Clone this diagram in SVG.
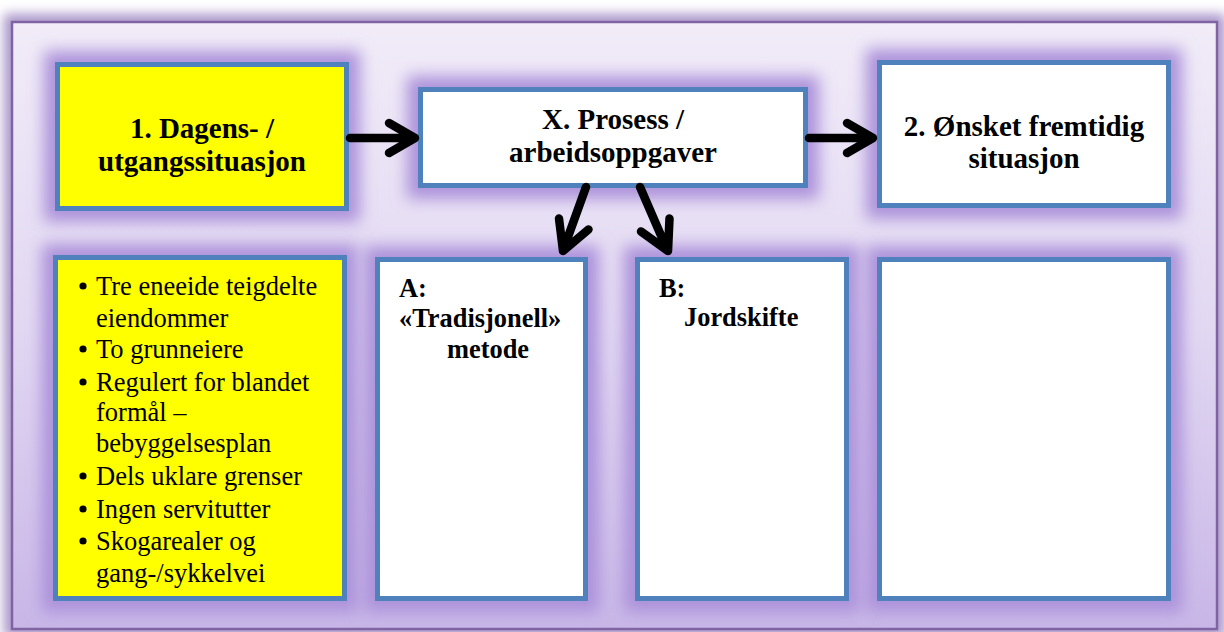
<svg xmlns="http://www.w3.org/2000/svg" width="1224" height="632" viewBox="0 0 1224 632">
  <defs>
    <linearGradient id="bg" x1="0" y1="0" x2="0" y2="1">
      <stop offset="0" stop-color="#f1ecf8"/>
      <stop offset="0.5" stop-color="#e2d8f2"/>
      <stop offset="1" stop-color="#c8b6e7"/>
    </linearGradient>
    <filter id="glow" x="-30%" y="-30%" width="160%" height="160%">
      <feFlood flood-color="#ac92da" flood-opacity="1" result="c"/>
      <feComposite in="c" in2="SourceAlpha" operator="in" result="s"/>
      <feMorphology in="s" operator="dilate" radius="11" result="d"/>
      <feGaussianBlur in="d" stdDeviation="8" result="b"/>
      <feMerge><feMergeNode in="b"/><feMergeNode in="SourceGraphic"/></feMerge>
    </filter>
    <filter id="frameglow" x="-5%" y="-10%" width="110%" height="120%">
      <feFlood flood-color="#a18bc4" flood-opacity="0.9" result="c"/>
      <feComposite in="c" in2="SourceAlpha" operator="in" result="s"/>
      <feMorphology in="s" operator="dilate" radius="7" result="d"/>
      <feGaussianBlur in="d" stdDeviation="6" result="b"/>
      <feMerge><feMergeNode in="b"/><feMergeNode in="SourceGraphic"/></feMerge>
    </filter>
  </defs>
  <style>
    .box { stroke: #4f81bd; stroke-width: 5; }
    .yellow { fill: #ffff00; }
    .white { fill: #ffffff; }
    .title { font-family: "Liberation Serif", "Times New Roman", serif; font-weight: bold; font-size: 29px; fill: #000; text-anchor: middle; }
    .sub { font-family: "Liberation Serif", "Times New Roman", serif; font-weight: bold; font-size: 26.4px; fill: #000; }
    .item { font-family: "Liberation Serif", "Times New Roman", serif; font-size: 26.5px; fill: #000; }
    .arrow { fill: none; stroke: #000; stroke-width: 8.5; stroke-linecap: round; stroke-linejoin: round; }
  </style>
  <rect x="0" y="0" width="1224" height="632" fill="#ffffff"/>
  <g id="frame">
    <rect x="12" y="22" width="1205" height="607" fill="url(#bg)" stroke="#8064a2" stroke-width="2.5" filter="url(#frameglow)"/>
  </g>

  <g id="node-1">
    <rect class="box yellow" x="57.5" y="64.5" width="289" height="144" filter="url(#glow)"/>
    <text class="title" x="202" y="138">1. Dagens- /</text>
    <text class="title" x="202" y="171">utgangssituasjon</text>
  </g>

  <g id="node-x">
    <rect class="box white" x="420.5" y="89.5" width="385" height="96" filter="url(#glow)"/>
    <text class="title" x="613" y="129">X. Prosess /</text>
    <text class="title" x="613" y="162">arbeidsoppgaver</text>
  </g>

  <g id="node-2">
    <rect class="box white" x="879.5" y="62.5" width="289" height="143" filter="url(#glow)"/>
    <text class="title" x="1024" y="136">2. Ønsket fremtidig</text>
    <text class="title" x="1024" y="168">situasjon</text>
  </g>

  <g id="node-list">
    <rect class="box yellow" x="55.5" y="257.5" width="289" height="341" filter="url(#glow)"/>
    <g fill="#000">
      <circle cx="83" cy="286" r="3.6"/>
      <circle cx="83" cy="349" r="3.6"/>
      <circle cx="83" cy="382" r="3.6"/>
      <circle cx="83" cy="476" r="3.6"/>
      <circle cx="83" cy="509" r="3.6"/>
      <circle cx="83" cy="541" r="3.6"/>
    </g>
    <text class="item" x="96" y="295">Tre eneeide teigdelte</text>
    <text class="item" x="96" y="327">eiendommer</text>
    <text class="item" x="96" y="358">To grunneiere</text>
    <text class="item" x="96" y="391">Regulert for blandet</text>
    <text class="item" x="96" y="421">formål –</text>
    <text class="item" x="96" y="452">bebyggelsesplan</text>
    <text class="item" x="96" y="485">Dels uklare grenser</text>
    <text class="item" x="96" y="518">Ingen servitutter</text>
    <text class="item" x="96" y="550">Skogarealer og</text>
    <text class="item" x="96" y="582">gang-/sykkelvei</text>
  </g>

  <g id="node-a">
    <rect class="box white" x="377.5" y="259.5" width="208" height="339" filter="url(#glow)"/>
    <text class="sub" x="399" y="297">A:</text>
    <text class="sub" x="399" y="327">«Tradisjonell»</text>
    <text class="sub" x="447" y="358">metode</text>
  </g>

  <g id="node-b">
    <rect class="box white" x="637.5" y="259.5" width="209" height="339" filter="url(#glow)"/>
    <text class="sub" x="659" y="297">B:</text>
    <text class="sub" x="684" y="326">Jordskifte</text>
  </g>

  <g id="node-c">
    <rect class="box white" x="879.5" y="259.5" width="289" height="339" filter="url(#glow)"/>
  </g>

  <g id="connectors">
    <path class="arrow" d="M350 138 L414 138 M389 123 L415 138 L389 153"/>
    <path class="arrow" d="M809 138 L872 138 M847 123 L873 138 L847 153"/>
    <path class="arrow" d="M586 187 L564 248 M588.5 229.5 L563 251 L559 218.5"/>
    <path class="arrow" d="M640 187 L666 247 M669.5 218.5 L668 251 L641 231.5"/>
  </g>
</svg>
